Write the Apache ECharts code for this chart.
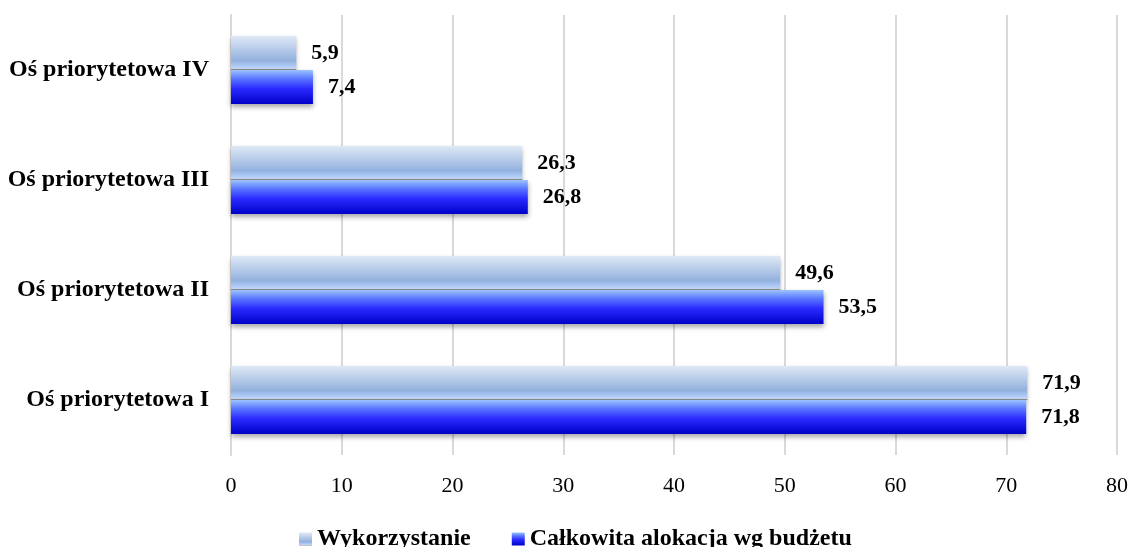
<!doctype html>
<html>
	<head>
		<meta charset="utf-8">
		<title></title>
		<script src="https://cdn.jsdelivr.net/npm/echarts@6/dist/echarts.min.js"></script>
		<style>
			html, body {
				margin: 0px;
				padding: 0px;
				background: #ffffff;
			}
			#barChart {
				width: 1132px;
				height: 547px;
			}
		</style>
	</head>

	<body>
		<div id="barChart"></div>
	</body>

	<script type="text/javascript">
		//osie priorytetowe (od dołu)
		var categories = ['Oś priorytetowa I', 'Oś priorytetowa II', 'Oś priorytetowa III', 'Oś priorytetowa IV'];
		//Wykorzystanie
		var usedValues = [71.9, 49.6, 26.3, 5.9];
		//Całkowita alokacja wg budżetu
		var budgetValues = [71.8, 53.5, 26.8, 7.4];
		//nazwy serii
		var seriesNames = ['Wykorzystanie', 'Całkowita alokacja wg budżetu'];

		var fontName = '"Liberation Serif", "DejaVu Serif", serif';

		var byId = function(id) {
			return document.getElementById(id);
		};

		var lightGradient = new echarts.graphic.LinearGradient(0, 0, 0, 1, [
			{ offset: 0, color: '#dfe9f6' },
			{ offset: 0.72, color: '#93b1dd' },
			{ offset: 0.86, color: '#a9c6f4' },
			{ offset: 0.96, color: '#c2d6f5' },
			{ offset: 0.965, color: '#8a8a8a' },
			{ offset: 1, color: '#8a8a8a' }
		]);
		var darkGradient = new echarts.graphic.LinearGradient(0, 0, 0, 1, [
			{ offset: 0, color: '#9cc4ff' },
			{ offset: 0.25, color: '#5a78ff' },
			{ offset: 0.55, color: '#2a2aff' },
			{ offset: 1, color: '#0000c8' }
		]);

		var labelFmt = function(p) {
			return String(p.value.toFixed(1)).replace('.', ',');
		};

		var labelStyle = {
			show: true,
			position: 'right',
			distance: 15,
			formatter: labelFmt,
			color: '#000000',
			fontFamily: fontName,
			fontWeight: 'bold',
			fontSize: 22
		};

		var shadow = {
			shadowColor: 'rgba(0,0,0,0.35)',
			shadowBlur: 5,
			shadowOffsetY: 3
		};

		var chart = echarts.init(byId('barChart'));
		chart.setOption({
			animation: false,
			grid: {
				left: 231,
				right: 15,
				top: 15,
				bottom: 92,
				containLabel: false
			},
			legend: {
				top: 527,
				left: 299,
				padding: 0,
				itemWidth: 13,
				itemHeight: 13,
				itemGap: 41,
				icon: 'rect',
				data: seriesNames,
				textStyle: {
					fontFamily: fontName,
					fontWeight: 'bold',
					fontSize: 24,
					color: '#000000'
				}
			},
			xAxis: {
				type: 'value',
				min: 0,
				max: 80,
				interval: 10,
				axisLine: { show: false },
				axisTick: { show: false },
				splitLine: { lineStyle: { color: '#d9d9d9', width: 2 } },
				axisLabel: {
					margin: 20,
					fontFamily: fontName,
					fontSize: 22,
					color: '#000000'
				}
			},
			yAxis: {
				type: 'category',
				data: categories,
				axisLine: { show: true, lineStyle: { color: '#d9d9d9', width: 2 } },
				axisTick: { show: false },
				axisLabel: {
					margin: 22,
					fontFamily: fontName,
					fontWeight: 'bold',
					fontSize: 24,
					color: '#000000'
				}
			},
			series: [{
				name: seriesNames[0],
				type: 'bar',
				data: usedValues,
				barWidth: 34,
				barGap: '0%',
				itemStyle: Object.assign({ color: lightGradient }, shadow),
				label: labelStyle
			}, {
				name: seriesNames[1],
				type: 'bar',
				data: budgetValues,
				barWidth: 34,
				barGap: '0%',
				itemStyle: Object.assign({ color: darkGradient }, shadow),
				label: labelStyle
			}]
		});
	</script>

</html>
